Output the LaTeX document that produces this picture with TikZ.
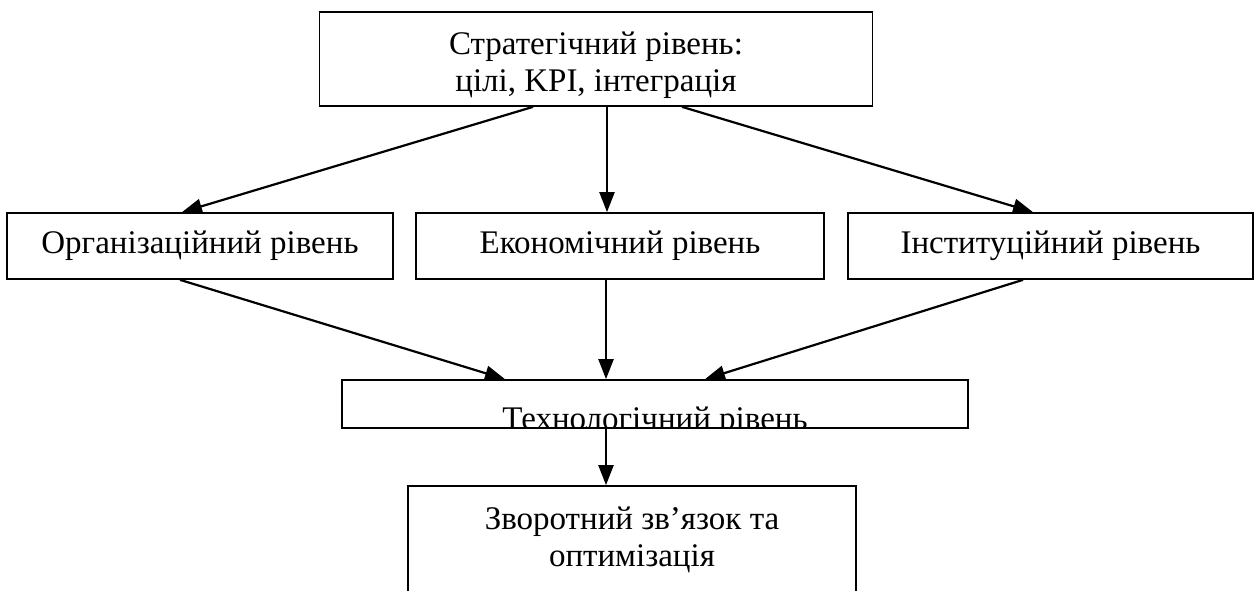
\documentclass[tikz,border=0pt]{standalone}
\usepackage{fontspec}
\setmainfont{Liberation Serif}
\usetikzlibrary{arrows.meta}
\begin{document}
\begin{tikzpicture}
		[x=1pt,y=-1pt,
		box/.style={rectangle,draw=black,line width=1.7pt,fill=white,inner sep=0pt,align=center,font=\fontsize{33}{37}\selectfont},
		plain/.style={draw=none,fill=none,inner sep=0pt,font=\fontsize{33}{37}\selectfont},
		link/.style={-{Triangle[length=20pt,width=15pt]},line width=2.2pt}
		]
		\useasboundingbox (0,0) rectangle (1255,591);
		\node[box,minimum width=553pt,minimum height=94pt] (strat) at (596,59){\rule{0pt}{36pt}Стратегічний рівень:\\цілі, KPI, інтеграція};
		\node[box,minimum width=386pt,minimum height=66pt] (org) at (200,246){Організаційний рівень};
		\node[box,minimum width=408pt,minimum height=66pt] (eco) at (620,246){Економічний рівень};
		\node[box,minimum width=405pt,minimum height=66pt] (inst) at (1050.5,246){Інституційний рівень};
		\node[box,minimum width=626pt,minimum height=48pt] (tech) at (655,404){};
		\node[box,minimum width=448pt,minimum height=108pt] (back) at (632,540){Зворотний зв’язок та\\оптимізація};

		% text of the technology box is cut by its lower edge
		\begin{scope}
		\clip ([yshift=0.9pt]tech.south west) rectangle ([yshift=-0.9pt]tech.north east);
		\node[plain,anchor=base] (techlabel) at (655,429){Технологічний рівень};
		\end{scope}

		\draw[link] ([xshift=-63pt]strat.south) -- ([xshift=-18pt]org.north);
		\draw[link] ([xshift=11pt]strat.south) -- ([xshift=-13pt]eco.north);
		\draw[link] ([xshift=86pt]strat.south) -- ([xshift=-17.5pt]inst.north);
		\draw[link] ([xshift=-20pt]org.south) -- ([xshift=-150pt]tech.north);
		\draw[link] ([xshift=-14pt]eco.south) -- ([xshift=-49pt]tech.north);
		\draw[link] ([xshift=-27.5pt]inst.south) -- ([xshift=50pt]tech.north);
		\draw[link] ([xshift=-49pt]tech.south) -- ([xshift=-26pt]back.north);
	\end{tikzpicture}
\end{document}
